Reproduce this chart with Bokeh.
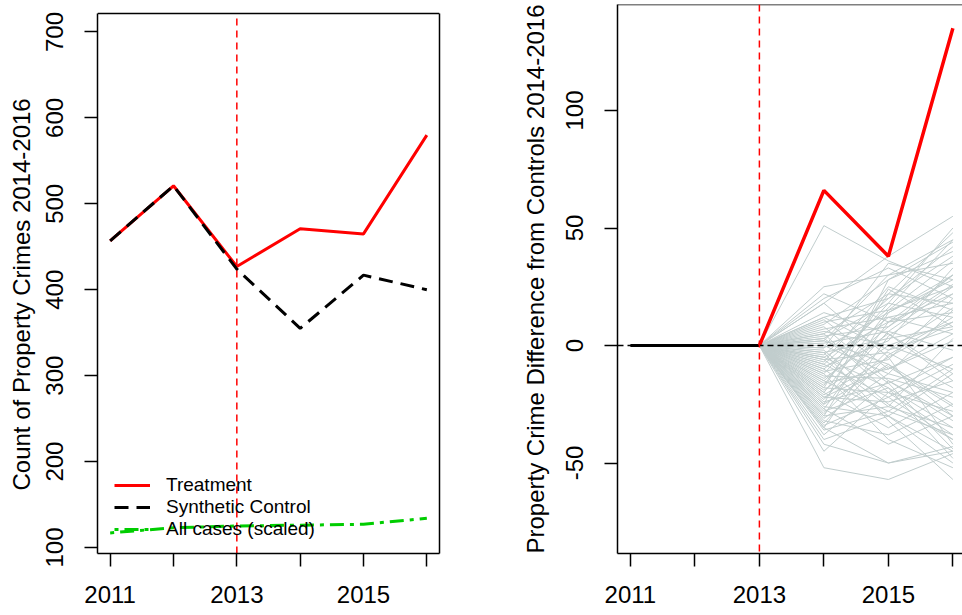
from bokeh.plotting import figure
from bokeh.layouts import row
from bokeh.models import FixedTicker, Span, Legend, LegendItem, Range1d, Title, LinearAxis
from bokeh.embed import file_html
from bokeh.resources import INLINE

# ---------------- data ----------------
years = [2011, 2012, 2013, 2014, 2015, 2016]
treatment = [457, 521, 427, 471, 465, 580]
synthetic_control = [457, 521, 424, 355, 417, 400]
all_cases_scaled = [117, 123, 125, 126, 127, 134]
intervention_year = 2013

treated_gap = [0, 0, 0, 66, 38, 135]
placebo_2013 = 0
placebo_2014 = [51, 25, 22, 20, 18, 18, 14, 12, 11, 10, 9, 8, 7, 6, 5, 5, 4, 3, 2, 2,
                1, 0, -1, -2, -3, -4, -5, -5, -6, -7, -8, -9, -10, -10, -11, -12, -13, -14, -15, -15,
                -16, -17, -18, -19, -20, -20, -21, -22, -23, -24, -25, -25, -26, -27, -28, -29, -30, -30, -31, -32,
                -33, -34, -35, -35, -36, -38, -40, -42, -45, -52, -3, -8, -12, -18, -22, -27, 12, 3, -1, -6]
placebo_2015 = [36, 30, 10, 33, -5, 38, 5, 20, -10, 15, 28, -15, 12, 0, 22, -20, 8, 18, -8, 30,
                6, -12, 14, -25, 3, 20, -18, 10, -3, 25, -22, 2, -30, 12, -6, 18, -14, 5, -28, 8,
                -10, 22, -20, 0, -35, 15, -5, -24, 6, -16, 28, -8, -30, 10, -18, -2, -26, 14, -12, -38,
                -4, -22, -50, 4, -28, -15, -30, -50, -20, -57, -32, 16, -40, 24, -9, -42, -2, -16, 35, -26]
placebo_2016 = [25, 45, 30, 20, 10, 55, -15, 38, 5, 25, 40, -30, 18, -10, 48, -5, 30, 12, -25, 35,
                -2, 15, 28, -40, 8, 42, -35, 22, -18, 15, -8, 33, -45, 5, 20, 50, -22, -12, -38, 26,
                2, 18, -28, 10, -20, 36, -42, -15, 25, -5, 44, -30, -12, 14, -48, 7, -35, 30, -20, -25,
                12, -40, -43, 22, -10, -32, -50, -45, -38, -46, -57, 45, -52, 8, -26, -30, 16, -44, 28, 3]

x_ticks = [2011, 2012, 2013, 2014, 2015, 2016]
x_tick_labels = ["2011", "", "2013", "", "2015", ""]
left_y_ticks = [100, 200, 300, 400, 500, 600, 700]
left_y_tick_labels = ["100", "200", "300", "400", "500", "600", "700"]
right_y_ticks = [-50, 0, 50, 100]
right_y_tick_labels = ["-50", "0", "50", "100"]

left_ylabel = "Count of Property Crimes 2014-2016"
right_ylabel = "Property Crime Difference from Controls 2014-2016"
legend_labels = ["Treatment", "Synthetic Control", "All cases (scaled)"]

# ---------------- style / layout ----------------
FONT = "Liberation Sans"
TICK_FS = "24px"
GRAY = "#C1CDCD"
GREEN = "#00CD00"
LEFT_BOX_Y = (93.0, 721.5)      # extent of the left plot box (R's usr)
LEFT_VIEW_TOP = 732.0           # frames of both panels share their top edge


def style_axes(p, y_ticks, y_tick_labels):
    for ax in (p.xaxis[0], p.yaxis[0]):
        ax.axis_line_color = "black"
        ax.axis_line_width = 1.5
        ax.major_tick_line_color = "black"
        ax.major_tick_line_width = 1.5
        ax.major_tick_out = 13
        ax.major_tick_in = 0
        ax.minor_tick_line_color = None
        ax.major_label_text_font = FONT
        ax.major_label_text_font_size = TICK_FS
        ax.major_label_text_color = "black"
    p.xaxis[0].ticker = FixedTicker(ticks=x_ticks)
    p.xaxis[0].major_label_overrides = {t: l for t, l in zip(x_ticks, x_tick_labels)}
    p.xaxis[0].major_label_standoff = 19
    p.yaxis[0].ticker = FixedTicker(ticks=y_ticks)
    p.yaxis[0].major_label_overrides = {t: l for t, l in zip(y_ticks, y_tick_labels)}
    p.yaxis[0].major_label_orientation = "vertical"
    p.yaxis[0].major_label_standoff = 21
    p.xgrid.visible = False
    p.ygrid.visible = False


# ---------------- left panel ----------------
p1 = figure(width=470, height=615, title=None,
            x_range=Range1d(2010.8, 2016.2), y_range=Range1d(LEFT_BOX_Y[0], LEFT_VIEW_TOP),
            output_backend="svg", toolbar_location=None,
            min_border_left=97, min_border_right=31, min_border_top=4, min_border_bottom=62)
p1.outline_line_color = None
style_axes(p1, left_y_ticks, left_y_tick_labels)
p1.yaxis[0].bounds = LEFT_BOX_Y
right_edge = LinearAxis(ticker=FixedTicker(ticks=[]), bounds=LEFT_BOX_Y,
                        axis_line_color="black", axis_line_width=1.5,
                        major_tick_out=0, major_tick_in=0, minor_tick_line_color=None,
                        major_label_text_font_size="0px")
p1.add_layout(right_edge, "right")
p1.add_layout(Span(location=LEFT_BOX_Y[1], dimension="width", line_color="black", line_width=1.5))
p1.add_layout(Title(text=left_ylabel, align="left", vertical_align="top", offset=63, standoff=13,
                    text_font=FONT, text_font_size="24px", text_font_style="normal",
                    text_color="black"), "left")

r_treat = p1.line(years, treatment, line_color="red", line_width=3)
r_synth = p1.line(years, synthetic_control, line_color="black", line_width=3, line_dash="14 8")
r_all = p1.line(years, all_cases_scaled, line_color=GREEN, line_width=3, line_dash="4 6 14 6")
p1.segment(x0=[intervention_year], y0=[LEFT_BOX_Y[0]], x1=[intervention_year], y1=[LEFT_BOX_Y[1]],
           line_color="red", line_width=1.5, line_dash="7 5")

legend = Legend(items=[LegendItem(label=legend_labels[0], renderers=[r_treat]),
                       LegendItem(label=legend_labels[1], renderers=[r_synth]),
                       LegendItem(label=legend_labels[2], renderers=[r_all])],
                location=(17, 13), orientation="vertical",
                background_fill_alpha=0, border_line_color=None,
                padding=0, margin=0, spacing=0,
                glyph_width=36, glyph_height=22, label_height=22, label_standoff=16,
                label_text_font=FONT, label_text_font_size="19px", label_text_color="black")
p1.add_layout(legend)

# ---------------- right panel ----------------
right_y_range = Range1d(-88.5, 145.1)
p2 = figure(width=492, height=615, title=None,
            x_range=Range1d(2010.8, 2016.149), y_range=right_y_range,
            output_backend="svg", toolbar_location=None,
            min_border_left=147, min_border_right=0, min_border_top=4, min_border_bottom=62)
p2.outline_line_color = None
style_axes(p2, right_y_ticks, right_y_tick_labels)
p2.yaxis[0].axis_label = right_ylabel
p2.yaxis[0].axis_label_text_font = FONT
p2.yaxis[0].axis_label_text_font_size = "24px"
p2.yaxis[0].axis_label_text_font_style = "normal"
p2.yaxis[0].axis_label_text_color = "black"
p2.yaxis[0].axis_label_standoff = 15
p2.add_layout(Span(location=right_y_range.end, dimension="width", line_color="black", line_width=1.5))

post_years = years[2:]
xs = [post_years for _ in placebo_2014]
ys = [[placebo_2013, a, b, c] for a, b, c in zip(placebo_2014, placebo_2015, placebo_2016)]
p2.multi_line(xs, ys, line_color=GRAY, line_width=1)
p2.add_layout(Span(location=0, dimension="width", line_color="black",
                   line_width=1.5, line_dash="6 4"))
p2.add_layout(Span(location=intervention_year, dimension="height", line_color="red",
                   line_width=1.5, line_dash="7 5"))
p2.line(years[:3], treated_gap[:3], line_color="black", line_width=3)
p2.line(years[2:], treated_gap[2:], line_color="red", line_width=3.5)

layout = row(p1, p2)
open("out.html", "w").write(file_html(layout, INLINE))
